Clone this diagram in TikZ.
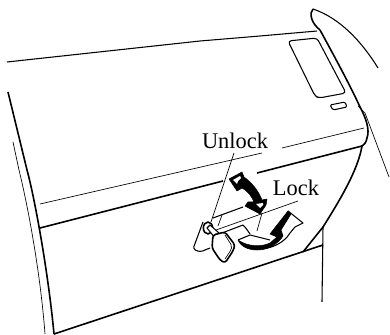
\documentclass[tikz,border=0pt]{standalone}
\usepackage{fontspec}
\setmainfont{Liberation Serif}
\usepackage{xcolor}
\usetikzlibrary{positioning}
\tikzset{
  heavyline/.style={black,line width=1.2pt,line join=round},
  midline/.style={black,line width=0.8pt,line join=round},
  thinline/.style={black,line width=0.5pt},
  arrowfill/.style={fill=black,draw=black,line width=0.4pt,line join=round},
  arrowhole/.style={fill=white,draw=none},
  callout/.style={font=\fontsize{16.8pt}{18pt}\selectfont,inner sep=0pt},
}
\begin{document}
\begin{tikzpicture}[x=0.75pt,y=-0.75pt]
  \useasboundingbox (0,0) rectangle (390,335);

  % Roof line and pillar
  \draw[midline] (7,62)--(200,41)--(260,36)--(317,31);
  \draw[heavyline] (320,30) .. controls (311,23) and (309,13) .. (313,9);
  \draw[midline] (313,9) .. controls (340,18) and (362,42) .. (378,68);
  \draw[heavyline] (320,30) .. controls (332,52) and (350,85) .. (360,107)
    .. controls (366,118) and (370,130) .. (367,138)
    .. controls (366,143) and (364,145) .. (362,146);
  \draw[heavyline] (362,146) .. controls (358,170) and (340,200) .. (323,227)
    --(303,252);
  % Rear edge
  \draw[thinline] (358,106)--(365,113)--(389,177);
  \draw[midline] (323,227)--(322,302);

  % Window
  \draw[midline,rounded corners=2.5pt] (288,41)--(317,38)--(346,93)--(319,98)
    --(315,96)--cycle;
  \draw[midline,rounded corners=1pt] (330,105)--(345,102)--(347,107)--(333,110)--cycle;

  % Left edge
  \draw[heavyline] (8,92)--(27,170) .. controls (34,195) and (48,270) .. (54,334);
  \draw[thinline] (13,142)--(19,170) .. controls (30,215) and (41,280) .. (45,334);

  % Belt lines
  \draw[thinline] (40,204)--(262,153);
  \draw[thinline] (282,148)--(364,128);
  \draw[heavyline] (40,228)--(223,181);
  \draw[heavyline] (257,173)--(362,146);
  \draw[heavyline] (54,334)--(323,245);

  % Latch recess
  \draw[midline] (213,218)--(243,207);
  \draw[midline] (222,233)--(243,225) .. controls (246,228) and (248,231) .. (250,234);
  \draw[thinline] (262,213)--(257,231);
  \draw[thinline] (222,215)--(218,226);
  \draw[midline,rounded corners=2pt] (203,222)--(193,249)--(200,252)--(210,248);

  % Leader lines
  \coordinate (unlocktip) at (234,153);
  \coordinate (unlockend) at (211,222);
  \coordinate (locktip) at (298,201);
  \coordinate (lockend) at (216,230);
  \draw[thinline] (unlocktip)--(unlockend);
  \draw[thinline] (locktip)--(lockend);

  % Key
  \draw[heavyline,fill=white] (208,228) circle[x radius=3.5pt,y radius=4.5pt];
  \draw[midline,fill=white] (207,228)--(210,225)--(219,233)--(215,238)--cycle;
  \draw[heavyline,fill=white,rounded corners=2pt] (213,235)--(225,232)--(235,245)
    --(233,251)--(225,263)--(220,260)--(212,248)--cycle;
  \draw[thinline,rounded corners=1.5pt] (225,235)--(232,246)--(231,250)--(225,259);

  % Double arrow
  \draw[arrowfill] (229,179)--(242,172)--(244,177) .. controls (252,183) and (258,190) .. (262,200)
    --(267,199)--(266,205)--(260,214)--(245,206)--(248,202)--(254,202)
    .. controls (252,197) and (248,191) .. (242,188)--(237,191)--cycle;
  \fill[arrowhole] (233,180)--(240,176)--(241,178)--(238,181)--(237,184)--cycle;
  \fill[arrowhole] (256,204)--(263,203)--(263,205)--(260,208)--cycle;

  % Curved arrow
  \draw[midline,fill=white] (288,211)--(303,223)--(295,227)--(290,233)
    .. controls (284,243) and (272,248) .. (262,249);
  \draw[midline] (238,240)--(250,235)--(270,240);
  \draw[arrowfill] (238,240) .. controls (248,247) and (262,247) .. (270,243)
    --(277,237)--(270,234)--(277,225)--(288,211)--(291,214)--(281,230)--(283,236)
    .. controls (278,244) and (268,250) .. (257,250)
    .. controls (249,250) and (241,247) .. (238,240)--cycle;

  % Labels
  \node[callout] (unlock) at (235,141) {Unlock};
  \node[callout] (lockword) at (296,188) {Lock};
\end{tikzpicture}
\end{document}
